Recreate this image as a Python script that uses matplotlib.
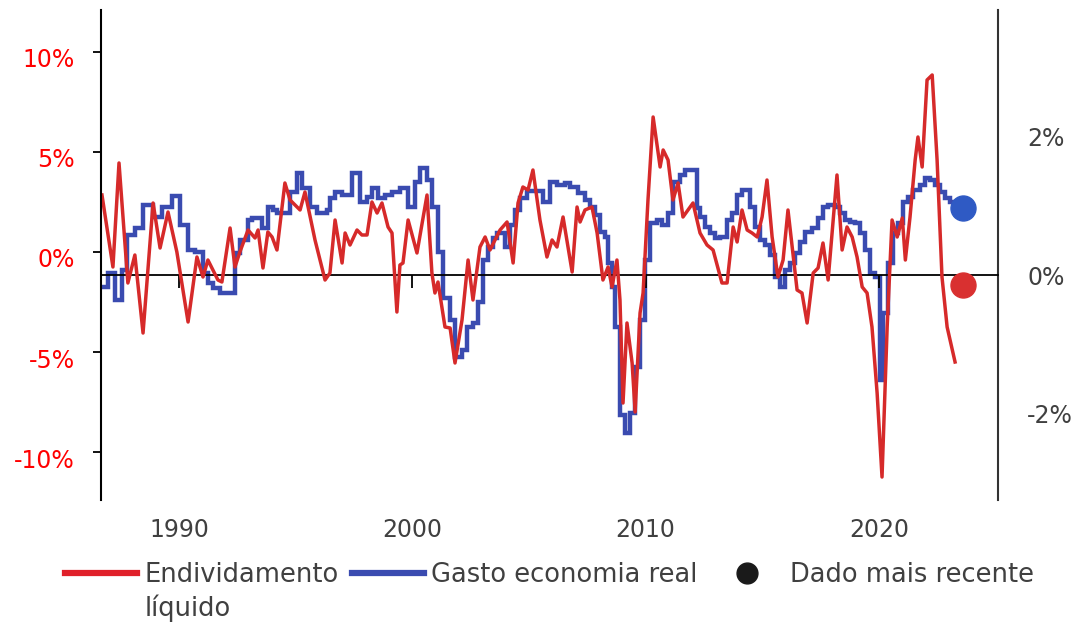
import matplotlib
matplotlib.use("Agg")
import matplotlib.pyplot as plt
from matplotlib.lines import Line2D
from matplotlib.transforms import ScaledTranslation

# Endividamento liquido (left axis, %)
red_years = [1986.70, 1987.17, 1987.43, 1987.81, 1988.11, 1988.46, 1988.89, 1989.19, 1989.53, 1989.91,
             1990.39, 1990.77, 1991.03, 1991.24, 1991.67, 1991.84, 1992.19, 1992.40, 1992.61, 1992.96,
             1993.26, 1993.39, 1993.60, 1993.81, 1993.99, 1994.20, 1994.54, 1994.76, 1995.19, 1995.40,
             1995.83, 1996.26, 1996.47, 1996.69, 1996.99, 1997.12, 1997.33, 1997.63, 1997.84, 1998.06,
             1998.27, 1998.49, 1998.70, 1998.96, 1999.13, 1999.34, 1999.47, 1999.60, 1999.82, 2000.20,
             2000.63, 2000.84, 2000.97, 2001.10, 2001.40, 2001.62, 2001.83, 2002.13, 2002.39, 2002.60,
             2002.90, 2003.12, 2003.33, 2003.76, 2004.06, 2004.32, 2004.53, 2004.74, 2004.96, 2005.17,
             2005.47, 2005.77, 2005.99, 2006.20, 2006.46, 2006.85, 2007.06, 2007.19, 2007.40, 2007.70,
             2007.92, 2008.17, 2008.39, 2008.56, 2008.77, 2008.90, 2009.03, 2009.20, 2009.42, 2009.55,
             2009.76, 2009.89, 2010.10, 2010.32, 2010.62, 2010.75, 2010.96, 2011.17, 2011.39, 2011.60,
             2012.03, 2012.33, 2012.63, 2012.89, 2013.27, 2013.49, 2013.75, 2013.92, 2014.13, 2014.35,
             2014.56, 2014.78, 2014.99, 2015.20, 2015.42, 2015.67, 2015.89, 2016.10, 2016.49, 2016.70,
             2016.92, 2017.18, 2017.39, 2017.60, 2017.82, 2018.20, 2018.42, 2018.63, 2018.85, 2019.06,
             2019.28, 2019.49, 2019.70, 2019.92, 2020.13, 2020.35, 2020.56, 2020.78, 2021.00, 2021.13,
             2021.33, 2021.55, 2021.67, 2021.85, 2022.06, 2022.28, 2022.49, 2022.70, 2022.92, 2023.26]
red_values = [2.85, -0.75, 4.45, -1.55, -0.15, -4.05, 2.45, 0.2, 2.0, 0.0,
              -3.5, -0.25, -1.25, -0.4, -1.4, -1.5, 1.2, -0.75, 0.0, 1.1,
              0.7, 1.1, -0.8, 1.0, 0.75, 0.1, 3.45, 2.6, 2.1, 3.0,
              0.6, -1.4, -1.05, 1.6, -0.55, 0.95, 0.35, 1.1, 0.85, 0.85,
              2.5, 1.95, 2.45, 1.25, 0.95, -3.0, -0.65, -0.55, 1.6, -0.05,
              2.85, -1.05, -2.05, -1.5, -3.75, -3.8, -5.55, -3.4, -0.4, -2.4,
              0.25, 0.75, 0.1, 1.1, 1.5, -0.55, 2.45, 3.25, 3.1, 4.1,
              1.6, -0.25, 0.6, 0.25, 1.75, -1.0, 2.25, 1.5, 2.1, 2.25,
              0.95, -1.4, -0.75, -1.75, -0.4, -2.4, -7.55, -3.55, -5.55, -8.0,
              -3.05, -2.05, 2.6, 6.75, 4.25, 5.1, 4.6, 2.6, 3.45, 1.75,
              2.45, 0.95, 0.35, 0.1, -1.55, -1.55, 1.25, 0.5, 2.1, 1.1,
              0.95, 0.75, 1.75, 3.6, 0.75, -1.25, -0.4, 2.1, -1.9, -2.05,
              -3.55, -1.05, -0.8, 0.45, -1.4, 3.85, 0.1, 1.25, 0.75, -0.25,
              -1.75, -2.05, -3.75, -7.05, -11.25, -3.75, 1.6, 0.75, 1.7, -0.4,
              1.75, 4.6, 5.75, 4.25, 8.6, 8.85, 4.6, -1.25, -3.75, -5.5]

# Gasto economia real (right axis, %), quarterly steps
blue_edges = [1986.66, 1986.96, 1987.26, 1987.56, 1987.77, 1988.11, 1988.46, 1988.89, 1989.27, 1989.70,
              1990.04, 1990.39, 1990.69, 1991.03, 1991.24, 1991.46, 1991.76, 1992.40, 1992.61, 1992.96,
              1993.13, 1993.56, 1993.81, 1994.03, 1994.20, 1994.76, 1995.06, 1995.27, 1995.62, 1995.92,
              1996.34, 1996.47, 1996.69, 1996.99, 1997.42, 1997.76, 1998.06, 1998.27, 1998.53, 1998.83,
              1999.13, 1999.47, 1999.82, 2000.12, 2000.33, 2000.63, 2000.84, 2001.10, 2001.32, 2001.62,
              2001.83, 2002.13, 2002.34, 2002.60, 2002.82, 2003.03, 2003.24, 2003.46, 2003.63, 2003.97,
              2004.19, 2004.40, 2004.62, 2004.92, 2005.60, 2005.90, 2006.20, 2006.55, 2006.76, 2007.10,
              2007.40, 2007.62, 2007.83, 2008.05, 2008.26, 2008.39, 2008.56, 2008.69, 2008.90, 2009.12,
              2009.33, 2009.55, 2009.76, 2009.98, 2010.19, 2010.49, 2010.70, 2010.96, 2011.17, 2011.47,
              2011.69, 2012.20, 2012.33, 2012.55, 2012.76, 2012.98, 2013.19, 2013.49, 2013.70, 2013.92,
              2014.13, 2014.47, 2014.69, 2014.90, 2015.12, 2015.33, 2015.55, 2015.76, 2015.97, 2016.19,
              2016.40, 2016.62, 2016.83, 2017.13, 2017.39, 2017.60, 2017.82, 2018.12, 2018.33, 2018.55,
              2018.76, 2018.98, 2019.19, 2019.40, 2019.62, 2019.83, 2020.05, 2020.18, 2020.39, 2020.60,
              2020.82, 2021.03, 2021.25, 2021.46, 2021.76, 2021.97, 2022.19, 2022.40, 2022.62, 2022.83,
              2023.05, 2023.26]
blue_values = [-0.17, 0.03, -0.36, 0.07, 0.58, 0.68, 1.01, 0.84, 0.99, 1.14,
               0.72, 0.36, 0.33, 0.03, -0.12, -0.19, -0.26, 0.32, 0.51, 0.80,
               0.83, 0.68, 0.99, 0.94, 0.90, 1.20, 1.48, 1.26, 0.99, 0.90,
               0.94, 1.12, 1.20, 1.16, 1.48, 1.06, 1.13, 1.26, 1.12, 1.16,
               1.20, 1.26, 0.99, 1.35, 1.55, 1.38, 0.99, 0.33, -0.33, -0.65,
               -1.19, -1.09, -0.75, -0.70, -0.39, 0.22, 0.41, 0.54, 0.61, 0.41,
               0.72, 0.94, 1.12, 1.22, 1.06, 1.35, 1.30, 1.33, 1.28, 1.19,
               1.09, 0.99, 0.87, 0.62, 0.55, 0.17, -0.17, -0.75, -2.03, -2.29,
               -2.00, -1.33, -0.65, 0.22, 0.75, 0.80, 0.72, 0.90, 1.35, 1.45,
               1.52, 0.97, 0.84, 0.70, 0.61, 0.54, 0.55, 0.80, 0.90, 1.16,
               1.23, 0.99, 0.70, 0.51, 0.43, 0.29, -0.03, -0.17, 0.07, 0.17,
               0.32, 0.48, 0.62, 0.68, 0.83, 0.99, 1.01, 0.99, 0.90, 0.80,
               0.77, 0.75, 0.61, 0.36, 0.03, -0.03, -1.52, -0.55, 0.17, 0.61,
               0.75, 1.06, 1.13, 1.23, 1.30, 1.41, 1.38, 1.30, 1.20, 1.12,
               1.06]

# most recent data points
latest_year = 2023.60
red_latest = -1.65
blue_latest = 0.97

left_ticks = [-10, -5, 0, 5, 10]
right_ticks = [-2, 0, 2]
year_ticks = [1990, 2000, 2010, 2020]

RED = '#d62a2a'
BLUE = '#3a4bb0'
GREY = '#404040'

fig = plt.figure(figsize=(10.76, 6.24), dpi=100)
ax = fig.add_axes([0.0939, 0.1987, 0.8336, 0.7853])
ax2 = ax.twinx()

ax2.stairs(blue_values, blue_edges, baseline=None, color=BLUE, lw=3.2)
ax2.plot([latest_year], [blue_latest], 'o', ms=18, color='#2f5ac4')
ax.plot(red_years, red_values, color=RED, lw=2.5)
ax.plot([latest_year], [red_latest], 'o', ms=18, color='#d93030')

# red series drawn over the blue one
ax.set_zorder(ax2.get_zorder() + 1)
ax.patch.set_visible(False)

ax.set_xlim(1986.66, 2025.10)
ax.set_ylim(-12.4, 12.1)
ax2.set_ylim(-3.26, 3.84)

# left axis
ax.set_yticks(left_ticks)
ax.set_yticklabels([f'{v}%' for v in left_ticks], color='red', fontsize=17)
ax.tick_params(axis='y', length=6, width=1.3, pad=13)
shift = ScaledTranslation(0, -0.06, fig.dpi_scale_trans)
for lbl in ax.get_yticklabels():
    lbl.set_transform(lbl.get_transform() + shift)

# right axis
ax2.set_yticks(right_ticks)
ax2.set_yticklabels([f'{v}%' for v in right_ticks], color=GREY, fontsize=17)
ax2.tick_params(axis='y', length=0, pad=21)

# year labels at the bottom, tick marks on the zero line
ax.set_xticks(year_ticks)
ax.set_xticklabels([str(y) for y in year_ticks], color=GREY, fontsize=17)
ax.tick_params(axis='x', length=0, pad=13)

ax2.xaxis.set_visible(True)
ax2.spines['bottom'].set_position(('data', 0))
ax2.set_xticks(year_ticks)
ax2.tick_params(axis='x', length=9, width=1.3, direction='out', labelbottom=False)

for s in ['top', 'right', 'bottom']:
    ax.spines[s].set_visible(False)
ax.spines['left'].set_linewidth(1.5)
for s in ['top', 'left']:
    ax2.spines[s].set_visible(False)
ax2.spines['right'].set_linewidth(1.5)
ax2.spines['right'].set_color('#333333')
ax2.spines['bottom'].set_linewidth(1.3)

handles = [Line2D([], [], color='#e0202a', lw=4.5),
           Line2D([], [], color=BLUE, lw=4.5),
           Line2D([], [], ls='', marker='o', ms=15, color='#1a1a1a')]
labels = ['Endividamento', 'Gasto economia real', 'Dado mais recente']
leg = fig.legend(handles, labels, loc='center left', bbox_to_anchor=(0.0604, 0.0785),
                 ncol=3, frameon=False, fontsize=18.5, handlelength=2.8, handletextpad=0.3,
                 columnspacing=0.5, borderaxespad=0, borderpad=0, labelcolor=GREY)

fig.canvas.draw()
bb = leg.get_texts()[0].get_window_extent()
W, H = fig.canvas.get_width_height()
fig.text(bb.x0 / W, ((bb.y0 + bb.y1) / 2 - 33) / H, 'líquido', color=GREY,
         fontsize=18.5, va='center', ha='left')

fig.savefig('out.png', dpi=100)
